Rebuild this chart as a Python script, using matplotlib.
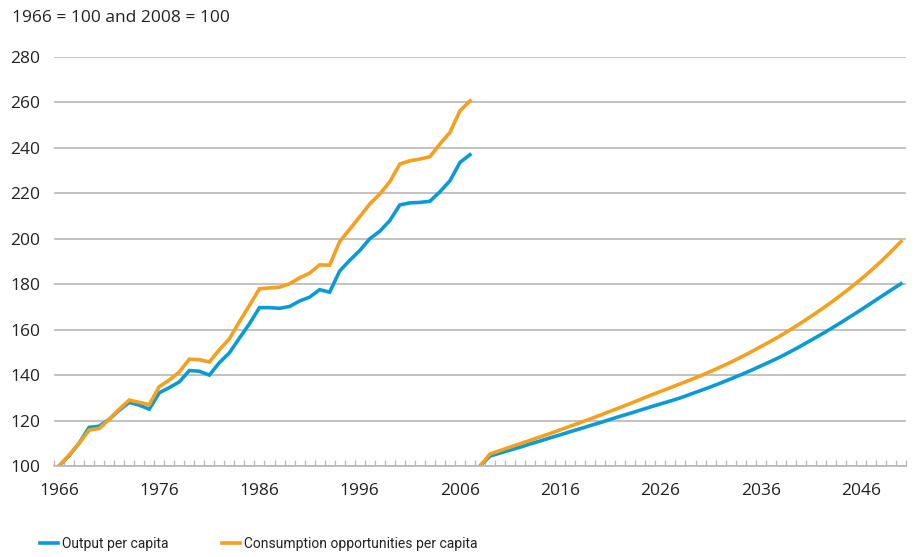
import numpy as np
import matplotlib
matplotlib.use("Agg")
import matplotlib.pyplot as plt

plt.rcParams['font.family'] = ['Open Sans', 'DejaVu Sans']

# historical, index 1966 = 100
hist_years = list(range(1966, 2008))
hist_output = [100.0, 104.5, 110.0, 117.0, 117.5, 120.5, 124.5, 128.0, 126.8, 125.0,
               132.2, 134.5, 137.0, 142.0, 141.7, 140.0, 145.5, 149.8, 156.3, 162.6,
               169.7, 169.7, 169.4, 170.2, 172.6, 174.3, 177.6, 176.5, 185.8, 190.5,
               194.8, 200.0, 203.3, 208.0, 214.9, 215.8, 216.0, 216.5, 220.7, 225.5,
               233.6, 237.0]
hist_consumption = [100.0, 104.8, 110.0, 115.8, 116.5, 120.5, 125.0, 129.0, 128.0, 127.0,
                    134.9, 137.8, 141.4, 147.0, 146.8, 145.8, 151.2, 156.0, 163.5, 170.7,
                    178.0, 178.4, 178.7, 180.2, 182.8, 184.9, 188.5, 188.4, 198.8, 204.2,
                    209.7, 215.3, 219.7, 225.1, 232.9, 234.3, 235.1, 236.1, 241.7, 246.8,
                    256.3, 260.7]

# projections, index 2008 = 100
proj_years = list(range(2008, 2051))
proj_output = [100.0, 104.4, 105.7, 107.0, 108.3, 109.7, 111.0, 112.4, 113.7, 115.1,
               116.4, 117.8, 119.1, 120.5, 121.9, 123.2, 124.6, 126.0, 127.3, 128.6,
               130.0, 131.6, 133.2, 134.8, 136.5, 138.3, 140.1, 142.0, 144.0, 146.0,
               148.1, 150.4, 152.8, 155.3, 157.8, 160.4, 163.1, 165.9, 168.7, 171.6,
               174.5, 177.4, 180.2]
proj_consumption = [100.0, 105.3, 106.8, 108.3, 109.8, 111.3, 112.8, 114.3, 115.9, 117.5,
                    119.1, 120.7, 122.4, 124.1, 125.8, 127.5, 129.3, 131.1, 132.8, 134.5,
                    136.2, 137.9, 139.7, 141.6, 143.6, 145.6, 147.8, 150.1, 152.5, 154.9,
                    157.4, 160.1, 162.9, 165.8, 168.8, 171.9, 175.2, 178.6, 182.2, 186.0,
                    190.0, 194.3, 198.8]

labels = ["Output per capita", "Consumption opportunities per capita"]
blue = "#0a9bd7"
orange = "#f5a01e"
text_col = "#222222"
grid_col = "#b8b8b8"

fig = plt.figure(figsize=(9.18, 5.57), dpi=100)
ax = fig.add_axes([54 / 918, (557 - 466) / 557, (906 - 54) / 918, (466 - 57) / 557])

ax.plot(hist_years, hist_output, color=blue, lw=2.6, solid_joinstyle='miter', label=labels[0])
ax.plot(hist_years, hist_consumption, color=orange, lw=2.6, solid_joinstyle='miter', label=labels[1])
ax.plot(proj_years, proj_output, color=blue, lw=2.6)
ax.plot(proj_years, proj_consumption, color=orange, lw=2.6)

ax.set_xlim(1965.5, 2050.5)
ax.set_ylim(100, 280)
ax.set_yticks(range(100, 281, 20))
ax.set_xticks(range(1966, 2050, 10))
ax.set_xticks(np.arange(1965.5, 2051, 1), minor=True)

for s in ['top', 'right', 'left']:
    ax.spines[s].set_visible(False)
ax.spines['bottom'].set_color(grid_col)
ax.spines['bottom'].set_linewidth(1.2)

ax.grid(axis='y', color=grid_col, lw=1.2)
ax.set_axisbelow(True)
ax.tick_params(axis='y', length=0, pad=10, labelsize=12.5, labelcolor=text_col)
ax.tick_params(axis='x', which='major', length=0, pad=12, labelsize=12.5, labelcolor=text_col)
ax.tick_params(axis='x', which='minor', direction='in', length=4, width=0.9, color=grid_col)

fig.text(12 / 918, 1 - 18 / 557, "1966 = 100 and 2008 = 100", fontsize=12.5,
         color=text_col, va='center', ha='left')

leg = fig.legend(loc='center left', bbox_to_anchor=(40 / 918, 1 - 544 / 557), ncol=2,
                 frameon=False, handlelength=1.3, handletextpad=0.3,
                 columnspacing=3.8, borderpad=0, borderaxespad=0,
                 prop={'family': ['Roboto', 'Open Sans'], 'size': 10})
for t in leg.get_texts():
    t.set_color(text_col)

fig.savefig("out.png", dpi=100)
